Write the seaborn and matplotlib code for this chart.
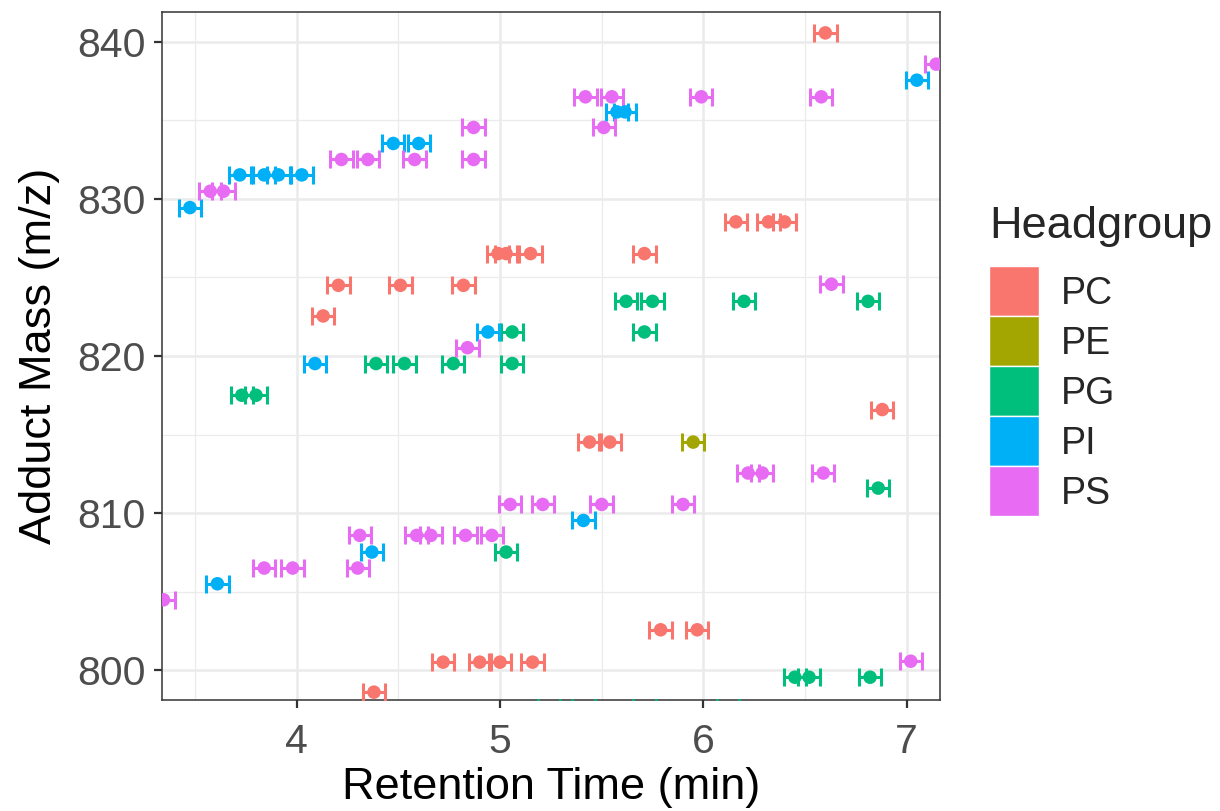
import matplotlib
matplotlib.use("Agg")
import matplotlib.pyplot as plt
from matplotlib.patches import Patch
from matplotlib.ticker import MultipleLocator
import seaborn as sns
import pandas as pd

# ---------------- data ----------------
headgroups = ["PC", "PE", "PG", "PI", "PS"]
colors = ["#F8766D", "#A3A500", "#00BF7D", "#00B0F6", "#E76BF3"]

pc_rt = [6.60, 6.16, 6.32, 6.40, 4.99, 5.03, 5.15, 5.71, 4.205, 4.51, 4.82,
         4.13, 6.88, 5.44, 5.54, 5.79, 5.97, 4.72, 4.90, 5.00, 5.16, 4.38]
pc_mass = [840.57, 828.54, 828.54, 828.54, 826.52, 826.52, 826.52, 826.52,
           824.50, 824.50, 824.50, 822.55, 816.59, 814.52, 814.52, 802.57,
           802.57, 800.51, 800.51, 800.51, 800.51, 798.60]

pe_rt = [5.95]
pe_mass = [814.52]

pg_rt = [5.62, 5.75, 6.20, 6.81, 5.06, 5.71, 4.39, 4.53, 4.77, 5.06, 3.73,
         3.80, 6.86, 5.03, 6.45, 6.52, 6.82, 5.24, 5.41, 5.71, 6.12]
pg_mass = [823.48, 823.48, 823.48, 823.48, 821.53, 821.53, 819.52, 819.52,
           819.52, 819.52, 817.50, 817.50, 811.59, 807.52, 799.55, 799.55,
           799.55, 797.60, 797.60, 797.60, 797.60]

pi_rt = [7.05, 5.575, 5.615, 4.475, 4.60, 3.72, 3.84, 3.91, 4.025, 3.475,
         4.94, 4.09, 5.41, 4.37, 3.61]
pi_mass = [837.56, 835.54, 835.54, 833.53, 833.53, 831.53, 831.53, 831.53,
           831.53, 829.45, 821.53, 819.52, 809.53, 807.52, 805.50]

ps_rt = [7.145, 5.42, 5.55, 5.99, 6.58, 4.87, 5.51, 4.22, 4.35, 4.58, 4.87,
         3.575, 3.64, 6.63, 4.84, 6.22, 6.29, 6.59, 5.05, 5.21, 5.50, 5.90,
         4.31, 4.59, 4.66, 4.83, 4.96, 3.84, 3.98, 4.30, 3.345, 7.02]
ps_mass = [838.58, 836.50, 836.50, 836.50, 836.50, 834.55, 834.55, 832.51,
           832.51, 832.51, 832.51, 830.49, 830.49, 824.57, 820.53, 812.55,
           812.55, 812.55, 810.55, 810.55, 810.55, 810.55, 808.58, 808.58,
           808.58, 808.58, 808.58, 806.50, 806.50, 806.50, 804.48, 800.57]

rt_err = 0.055  # half-width of the retention-time error bars (min)

x_ticks = [4, 5, 6, 7]
y_ticks = [800, 810, 820, 830, 840]

# ---------------- build frame ----------------
frames = []
for hg, rt, mz in [("PC", pc_rt, pc_mass), ("PE", pe_rt, pe_mass),
                   ("PG", pg_rt, pg_mass), ("PI", pi_rt, pi_mass),
                   ("PS", ps_rt, ps_mass)]:
    frames.append(pd.DataFrame({"rt": rt, "mass": mz, "Headgroup": hg}))
df = pd.concat(frames, ignore_index=True)
palette = dict(zip(headgroups, colors))

# ---------------- style ----------------
sns.set_theme(style="white")
plt.rcParams["font.family"] = ["Liberation Sans", "DejaVu Sans"]

fig = plt.figure(figsize=(12.2, 8.11), dpi=100)
ax = fig.add_axes([161.7 / 1220, 1 - 700 / 811, (940 - 161.7) / 1220, (700 - 12) / 811])
ax.set_facecolor("white")

# error bars
for hg in headgroups:
    sub = df[df["Headgroup"] == hg]
    ax.errorbar(sub["rt"], sub["mass"], xerr=rt_err, fmt="none",
                ecolor=palette[hg], elinewidth=2.2, capsize=6.5, capthick=2.2,
                zorder=3)

# points
sns.scatterplot(data=df, x="rt", y="mass", hue="Headgroup", palette=palette,
                hue_order=headgroups, s=95, linewidth=0, legend=False, ax=ax,
                zorder=4)

ax.set_xlim(3.336, 7.164)
ax.set_ylim(798.1, 841.9)
ax.set_xticks(x_ticks)
ax.set_yticks(y_ticks)
ax.xaxis.set_minor_locator(MultipleLocator(0.5))
ax.yaxis.set_minor_locator(MultipleLocator(5))

ax.grid(which="major", color="#EBEBEB", linewidth=1.8, zorder=0)
ax.grid(which="minor", color="#EBEBEB", linewidth=0.9, zorder=0)
ax.set_axisbelow(True)

for s in ax.spines.values():
    s.set_visible(True)
    s.set_color("#333333")
    s.set_linewidth(1.1)

ax.tick_params(which="major", axis="both", length=5.8, width=1.6,
               color="#333333", labelsize=29.5, labelcolor="#4D4D4D",
               bottom=True, left=True, direction="out")
ax.tick_params(which="major", axis="x", pad=11)
ax.tick_params(which="major", axis="y", pad=6)
ax.tick_params(which="minor", length=0)

ax.set_xlabel("Retention Time (min)", fontsize=32.5, color="black", labelpad=4)
ax.set_ylabel("Adduct Mass (m/z)", fontsize=32.5, color="black", labelpad=12)

# legend
handles = [Patch(facecolor=palette[h], edgecolor="white", linewidth=1.0, label=h)
           for h in headgroups]
leg = fig.legend(handles=handles, title="Headgroup", loc="upper left",
                 bbox_to_anchor=(989 / 1220, 1 - 206 / 811), frameon=False,
                 fontsize=27, title_fontsize=32.5, handlelength=1.33,
                 handleheight=1.674, labelspacing=0.0, handletextpad=0.6,
                 borderpad=0, borderaxespad=0, alignment="left")
leg._legend_box.sep = 14

fig.savefig("out.png", dpi=100, facecolor="white")
